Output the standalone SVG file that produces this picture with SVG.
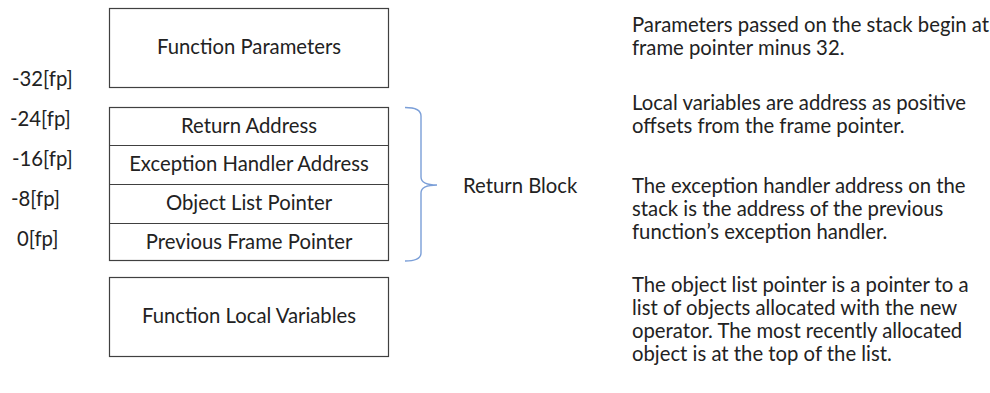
<svg xmlns="http://www.w3.org/2000/svg" width="990" height="393" viewBox="0 0 990 393">
  <style>
    text { font-family: Lato, "Open Sans", "Liberation Sans", sans-serif; font-size: 20.3px; fill: #222222; }
    .mid { text-anchor: middle; }
    .box { fill: #ffffff; stroke: #404040; stroke-width: 1.2; }
    .sep { stroke: #404040; stroke-width: 1.2; }
    .brace { fill: none; stroke: #7b9fd8; stroke-width: 1.4; }
  </style>
  <rect width="990" height="393" fill="#ffffff"/>

  <!-- stack frame: parameters -->
  <g id="params">
    <rect class="box" x="109.5" y="8.5" width="279" height="79"/>
    <text class="mid" x="249" y="54">Function Parameters</text>
  </g>

  <!-- return block: four 8-byte slots -->
  <g id="return-block">
    <rect class="box" x="109.5" y="107.5" width="279" height="153"/>
    <line class="sep" x1="109.5" y1="145.5" x2="388.5" y2="145.5"/>
    <line class="sep" x1="109.5" y1="184.5" x2="388.5" y2="184.5"/>
    <line class="sep" x1="109.5" y1="223.5" x2="388.5" y2="223.5"/>
  </g>
  <g id="return-address"><text class="mid" x="249" y="133">Return Address</text></g>
  <g id="exception-handler"><text class="mid" x="249" y="171">Exception Handler Address</text></g>
  <g id="object-list"><text class="mid" x="249" y="210">Object List Pointer</text></g>
  <g id="previous-fp"><text class="mid" x="249" y="249">Previous Frame Pointer</text></g>

  <!-- stack frame: locals -->
  <g id="locals">
    <rect class="box" x="109.5" y="277.5" width="279" height="79"/>
    <text class="mid" x="249" y="323">Function Local Variables</text>
  </g>

  <!-- frame-pointer offsets -->
  <g id="offsets">
    <text x="12" y="86">-32[fp]</text>
    <text x="10" y="126">-24[fp]</text>
    <text x="12" y="166">-16[fp]</text>
    <text x="11" y="206">-8[fp]</text>
    <text x="17" y="246">0[fp]</text>
  </g>

  <!-- brace grouping the return block -->
  <g id="connectors">
    <path class="brace" d="M405,107.5 Q421,107.5 421,116 L421,177 Q421,185 437,185 Q421,185 421,193 L421,253 Q421,261 405,261"/>
  </g>
  <g id="return-block-label"><text x="463" y="193">Return Block</text></g>

  <!-- notes -->
  <g id="notes">
    <text x="632" y="32">Parameters passed on the stack begin at</text>
    <text x="632" y="55">frame pointer minus 32.</text>
    <text x="632" y="110">Local variables are address as positive</text>
    <text x="632" y="133">offsets from the frame pointer.</text>
    <text x="632" y="193">The exception handler address on the</text>
    <text x="632" y="216">stack is the address of the previous</text>
    <text x="632" y="239">function’s exception handler.</text>
    <text x="632" y="292">The object list pointer is a pointer to a</text>
    <text x="632" y="315">list of objects allocated with the new</text>
    <text x="632" y="338">operator. The most recently allocated</text>
    <text x="632" y="361">object is at the top of the list.</text>
  </g>
</svg>
